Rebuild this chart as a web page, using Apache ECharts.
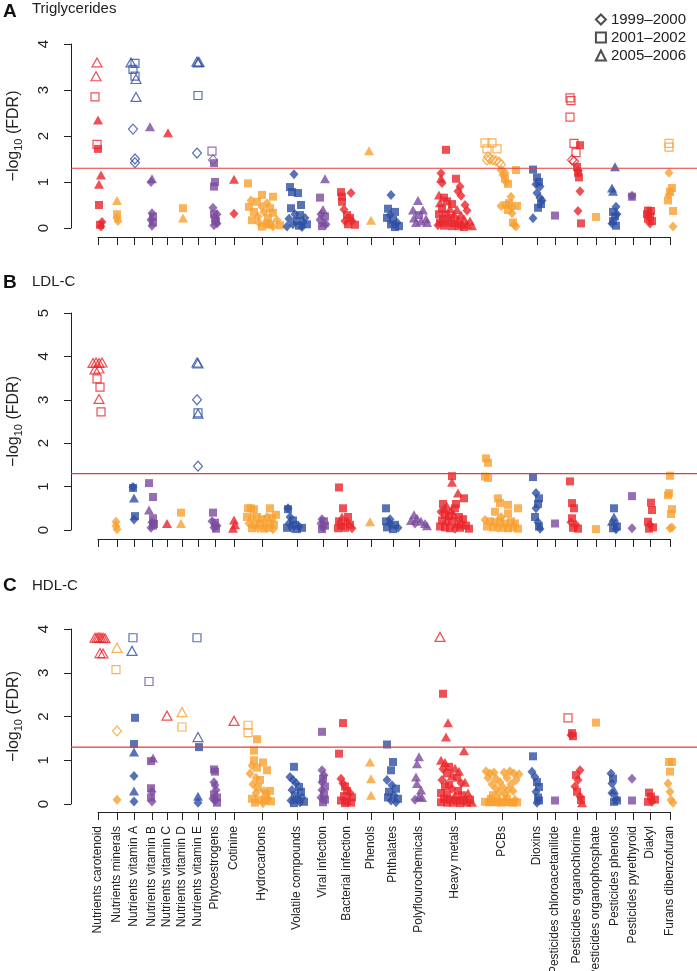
<!DOCTYPE html>
<html>
<head>
<meta charset="utf-8">
<script src="https://cdn.jsdelivr.net/npm/echarts@6/dist/echarts.min.js"></script>
<style>html,body{margin:0;padding:0;background:#fff}#c{width:697px;height:971px}</style>
</head>
<body>
<div id="c"></div>
<script>
const catNames = ['Nutrients carotenoid','Nutrients minerals','Nutrients vitamin A','Nutrients vitamin B','Nutrients vitamin C','Nutrients vitamin D','Nutrients vitamin E','Phytoestrogens','Cotinine','Hydrocarbons','Volatile compounds','Viral infection','Bacterial infection','Phenols','Phthalates','Polyflourochemicals','Heavy metals','PCBs','Dioxins','Pesticides chloroacetanilide','Pesticides organochlorine','Pesticides organophosphate','Pesticides phenols','Pesticides pyrethyroid','Diakyl','Furans dibenzofuran'];
const catPos = [0,19,36,54,69,84,100,117,136,164,199,225,249,273,295,321,357,404,439,457,479,498,517,535,552,572];
const groupColors = ['#E8262B','#F8A030','#2D4FA3','#7B4B9E'];
const surveyNames = ['1999\u20132000','2001\u20132002','2005\u20132006'];
const thresholdFDR = 1.3;
const yTicksA = [0,1,2,3,4], yTicksB = [0,1,2,3,4,5], yTicksC = [0,1,2,3,4];
// points: [category index, jitter offset, -log10(FDR), shape]  d=1999-2000 s=2001-2002 t=2005-2006 ; uppercase = open symbol
const triglycerides = [
[0,-1,3.6,'T'],[0,-2,3.3,'T'],[0,-3,2.85,'S'],[0,0,2.35,'t'],[0,-1,1.82,'S'],[0,0,1.72,'s'],[0,3,1.15,'t'],[0,1,0.95,'t'],[0,1,0.5,'s'],[0,4,0.13,'d'],[0,2,0.07,'s'],[0,3,0.03,'d'],
[1,0,0.6,'t'],[1,0,0.3,'s'],[1,0,0.22,'d'],[1,1,0.15,'d'],
[2,-3,3.6,'T'],[2,1,3.58,'S'],[2,-1,3.45,'S'],[2,1,3.3,'S'],[2,2,3.24,'T'],[2,2,2.85,'T'],[2,-1,2.15,'D'],[2,1,1.5,'D'],[2,1,1.42,'D'],
[3,-2,2.2,'t'],[3,0,1.07,'t'],[3,-1,1.0,'d'],[3,0,0.32,'d'],[3,1,0.25,'s'],[3,-1,0.18,'d'],[3,1,0.12,'s'],[3,0,0.05,'d'],
[4,1,2.07,'t'],
[5,1,0.43,'s'],[5,1,0.22,'t'],
[6,-1,3.62,'T'],[6,0,3.6,'T'],[6,1,3.61,'T'],[6,0,2.88,'S'],[6,-1,1.63,'D'],
[7,-3,1.67,'S'],[7,-2,1.48,'D'],[7,-1,1.41,'s'],[7,0,1.0,'s'],[7,-1,0.9,'s'],[7,-2,0.44,'d'],[7,2,0.3,'d'],[7,0,0.2,'s'],[7,2,0.1,'d'],[7,-1,0.06,'d'],[7,1,0.15,'s'],[7,-1,0.3,'s'],
[8,0,1.06,'t'],[8,0,0.31,'d'],
[9,-14,0.97,'s'],[9,0,0.72,'s'],[9,11,0.68,'s'],[9,-11,0.6,'d'],[9,-5,0.57,'s'],[9,5,0.54,'d'],[9,-13,0.46,'s'],[9,0,0.46,'d'],[9,8,0.43,'s'],[9,-8,0.35,'s'],[9,2,0.35,'d'],[9,11,0.33,'s'],[9,-4,0.25,'d'],[9,6,0.22,'s'],[9,-10,0.17,'s'],[9,15,0.17,'d'],[9,8,0.07,'s'],[9,0,0.03,'s'],[9,11,0.03,'d'],[9,5,0.1,'s'],[9,18,0.06,'s'],[9,-3,0.12,'d'],
[10,-3,1.17,'d'],[10,-7,0.89,'s'],[10,-5,0.78,'s'],[10,1,0.76,'s'],[10,-6,0.43,'s'],[10,4,0.5,'s'],[10,-2,0.3,'d'],[10,3,0.28,'s'],[10,8,0.22,'d'],[10,-8,0.2,'d'],[10,0,0.15,'s'],[10,6,0.12,'d'],[10,-4,0.08,'d'],[10,2,0.05,'s'],[10,10,0.08,'s'],[10,-10,0.03,'d'],[10,5,0.02,'d'],
[11,2,1.07,'t'],[11,-3,0.66,'s'],[11,0,0.4,'t'],[11,-2,0.3,'d'],[11,2,0.25,'s'],[11,-3,0.18,'d'],[11,1,0.12,'t'],[11,3,0.08,'d'],[11,-1,0.04,'s'],
[12,-6,0.78,'s'],[12,4,0.76,'d'],[12,-5,0.68,'s'],[12,-5,0.57,'s'],[12,-3,0.4,'d'],[12,0,0.28,'s'],[12,3,0.22,'s'],[12,5,0.15,'d'],[12,8,0.07,'s'],[12,1,0.08,'s'],[12,-2,0.15,'d'],
[13,-2,1.68,'t'],[13,0,0.17,'t'],
[14,-2,0.72,'d'],[14,-5,0.42,'s'],[14,2,0.35,'s'],[14,-3,0.28,'d'],[14,-6,0.22,'s'],[14,0,0.18,'s'],[14,4,0.12,'d'],[14,-2,0.08,'s'],[14,6,0.04,'s'],[14,2,0.02,'s'],
[15,-1,0.6,'t'],[15,-6,0.39,'t'],[15,4,0.39,'t'],[15,0,0.28,'s'],[15,-5,0.22,'t'],[15,7,0.2,'t'],[15,2,0.15,'t'],[15,-3,0.12,'t'],[15,8,0.12,'t'],
[16,-9,1.7,'s'],[16,-14,1.19,'d'],[16,-14,1.08,'t'],[16,-13,0.98,'d'],[16,1,1.07,'s'],[16,5,0.9,'d'],[16,3,0.8,'d'],[16,6,0.7,'d'],[16,-16,0.72,'t'],[16,-11,0.66,'s'],[16,-15,0.55,'t'],[16,-8,0.58,'s'],[16,-3,0.52,'s'],[16,10,0.5,'d'],[16,-13,0.42,'s'],[16,-5,0.42,'t'],[16,2,0.4,'t'],[16,12,0.38,'d'],[16,-16,0.3,'s'],[16,-9,0.3,'s'],[16,-1,0.3,'t'],[16,6,0.28,'t'],[16,-12,0.2,'s'],[16,-4,0.22,'s'],[16,3,0.2,'t'],[16,9,0.2,'t'],[16,15,0.15,'t'],[16,-15,0.12,'s'],[16,-7,0.12,'s'],[16,0,0.1,'s'],[16,7,0.1,'t'],[16,12,0.08,'t'],[16,-11,0.05,'s'],[16,-3,0.04,'s'],[16,4,0.04,'s'],[16,17,0.05,'t'],[16,-17,0.06,'d'],[16,9,0.02,'s'],
[17,-17,1.85,'S'],[17,-10,1.85,'S'],[17,-15,1.72,'S'],[17,-5,1.72,'S'],[17,-14,1.55,'D'],[17,-12,1.5,'D'],[17,-9,1.48,'D'],[17,-6,1.46,'D'],[17,-3,1.43,'D'],[17,-1,1.38,'D'],[17,-15,1.48,'D'],
[17,-1,1.26,'d'],[17,1,1.15,'d'],[17,3,1.08,'s'],[17,4,1.0,'d'],[17,6,0.96,'s'],[17,14,1.26,'s'],[17,3,1.2,'d'],
[17,9,0.68,'d'],[17,-1,0.48,'d'],[17,4,0.5,'s'],[17,7,0.54,'s'],[17,10,0.45,'d'],[17,15,0.48,'s'],[17,6,0.39,'s'],[17,10,0.32,'d'],[17,12,0.07,'d'],[17,14,0.03,'d'],[17,11,0.12,'s'],
[18,-4,1.27,'s'],[18,0,1.1,'s'],[18,2,1.0,'s'],[18,3,0.9,'d'],[18,0,0.76,'d'],[18,3,0.65,'d'],[18,4,0.52,'s'],[18,1,0.44,'s'],[18,-4,0.21,'d'],[18,5,0.6,'d'],[18,-1,0.95,'d'],
[19,0,0.27,'s'],
[20,-7,2.83,'S'],[20,-6,2.77,'S'],[20,-7,2.41,'S'],[20,-3,1.84,'S'],[20,3,1.8,'s'],[20,-1,1.64,'S'],[20,-5,1.48,'D'],[20,-3,1.45,'D'],[20,0,1.33,'s'],[20,1,1.2,'s'],[20,2,1.1,'s'],[20,3,0.8,'d'],[20,1,0.37,'d'],[20,4,0.1,'s'],[20,1,1.25,'d'],
[21,0,0.24,'s'],
[22,0,1.33,'t'],[22,-3,0.87,'t'],[22,-2,0.8,'t'],[22,1,0.46,'d'],[22,-2,0.35,'s'],[22,0,0.25,'s'],[22,-2,0.15,'s'],[22,-3,0.1,'d'],[22,2,0.3,'d'],[22,1,0.05,'s'],
[23,-1,0.7,'d'],[23,-1,0.68,'s'],
[24,-2,0.38,'s'],[24,1,0.37,'s'],[24,-3,0.3,'s'],[24,0,0.25,'s'],[24,2,0.15,'s'],[24,0,0.1,'d'],[24,-2,0.2,'s'],
[25,-1,1.84,'S'],[25,-1,1.76,'S'],[25,-1,1.2,'d'],[25,2,0.87,'s'],[25,0,0.79,'s'],[25,-1,0.72,'d'],[25,-2,0.6,'s'],[25,3,0.37,'s'],[25,3,0.03,'d']
];
const ldlC = [
[0,-5,3.85,'T'],[0,-2,3.86,'T'],[0,1,3.85,'T'],[0,4,3.86,'T'],[0,-3,3.7,'T'],[0,1,3.72,'T'],[0,-1,3.48,'S'],[0,2,3.29,'S'],[0,1,3.02,'T'],[0,3,2.72,'S'],
[1,-1,0.19,'d'],[1,-1,0.09,'d'],[1,0,0.02,'d'],
[2,-1,0.99,'d'],[2,-1,0.97,'s'],[2,0,0.74,'t'],[2,1,0.32,'s'],[2,0,0.24,'d'],
[3,-3,1.08,'s'],[3,1,0.76,'s'],[3,-3,0.46,'t'],[3,1,0.27,'s'],[3,0,0.18,'d'],[3,1,0.1,'s'],[3,-1,0.05,'d'],[3,2,0.14,'s'],
[4,0,0.15,'t'],
[5,-1,0.4,'s'],[5,-1,0.15,'t'],
[6,-1,3.86,'T'],[6,0,3.84,'T'],[6,-1,3.0,'D'],[6,0,2.7,'S'],[6,0,2.68,'T'],[6,0,1.47,'D'],
[7,-2,0.4,'s'],[7,-3,0.2,'d'],[7,0,0.17,'s'],[7,2,0.1,'d'],[7,-1,0.06,'d'],[7,1,0.03,'s'],
[8,0,0.23,'t'],[8,1,0.12,'t'],[8,-1,0.04,'t'],
[9,-14,0.5,'s'],[9,-11,0.5,'s'],[9,-8,0.48,'s'],[9,8,0.5,'s'],[9,-15,0.3,'s'],[9,-10,0.28,'d'],[9,-5,0.3,'s'],[9,0,0.25,'s'],[9,5,0.3,'d'],[9,10,0.28,'s'],[9,-13,0.15,'d'],[9,-7,0.12,'s'],[9,-2,0.15,'s'],[9,3,0.1,'d'],[9,8,0.15,'s'],[9,12,0.12,'s'],[9,-10,0.04,'s'],[9,-4,0.04,'d'],[9,2,0.03,'s'],[9,7,0.05,'s'],[9,11,0.02,'d'],[9,14,0.35,'s'],
[10,-9,0.5,'d'],[10,-9,0.48,'s'],[10,-7,0.3,'d'],[10,-4,0.22,'s'],[10,-8,0.15,'d'],[10,-2,0.12,'s'],[10,2,0.08,'d'],[10,5,0.05,'s'],[10,-5,0.04,'d'],[10,0,0.02,'s'],[10,-10,0.05,'s'],
[11,-1,0.25,'d'],[11,1,0.2,'s'],[11,-2,0.15,'d'],[11,2,0.1,'s'],[11,0,0.06,'d'],[11,-1,0.02,'s'],
[12,-8,0.98,'s'],[12,-4,0.5,'s'],[12,-5,0.3,'t'],[12,-8,0.2,'s'],[12,0,0.22,'t'],[12,-6,0.1,'s'],[12,3,0.12,'s'],[12,-2,0.05,'s'],[12,5,0.04,'d'],[12,-9,0.04,'s'],[12,1,0.3,'s'],
[13,-1,0.19,'t'],
[14,-7,0.5,'s'],[14,-7,0.2,'s'],[14,-3,0.15,'d'],[14,2,0.12,'s'],[14,-6,0.06,'s'],[14,5,0.05,'d'],[14,0,0.02,'s'],[14,-3,0.25,'d'],
[15,-5,0.35,'t'],[15,-2,0.27,'t'],[15,-8,0.22,'t'],[15,2,0.2,'t'],[15,6,0.15,'t'],[15,-4,0.15,'d'],[15,8,0.1,'t'],
[16,-3,1.24,'s'],[16,-3,1.1,'t'],[16,3,0.85,'t'],[16,9,0.73,'s'],[16,-12,0.6,'s'],[16,-8,0.55,'t'],[16,-4,0.45,'t'],[16,0,0.5,'s'],[16,-14,0.42,'d'],[16,-10,0.35,'s'],[16,-6,0.32,'s'],[16,-1,0.35,'t'],[16,4,0.3,'s'],[16,8,0.25,'s'],[16,-13,0.22,'s'],[16,-8,0.18,'d'],[16,-3,0.2,'s'],[16,2,0.15,'t'],[16,6,0.12,'s'],[16,11,0.1,'s'],[16,-15,0.08,'s'],[16,-10,0.06,'s'],[16,-5,0.04,'s'],[16,0,0.03,'d'],[16,5,0.05,'s'],[16,14,0.03,'s'],[16,-11,0.5,'t'],[16,1,0.6,'s'],
[17,-16,1.65,'s'],[17,-14,1.55,'s'],[17,-17,1.23,'s'],[17,-14,1.2,'s'],[17,-4,0.73,'s'],[17,-2,0.62,'s'],[17,6,0.58,'s'],[17,16,0.5,'s'],[17,6,0.38,'s'],[17,-7,0.42,'s'],[17,-17,0.23,'d'],[17,-12,0.2,'s'],[17,-7,0.18,'s'],[17,-2,0.2,'s'],[17,3,0.15,'s'],[17,9,0.2,'s'],[17,13,0.15,'s'],[17,-15,0.08,'s'],[17,-9,0.06,'s'],[17,-4,0.05,'d'],[17,1,0.05,'s'],[17,6,0.04,'s'],[17,11,0.06,'s'],[17,16,0.03,'s'],[17,-1,0.3,'d'],
[18,-4,1.22,'s'],[18,-1,0.85,'d'],[18,2,0.73,'s'],[18,-1,0.5,'d'],[18,-2,0.3,'s'],[18,1,0.18,'d'],[18,2,0.08,'s'],[18,3,0.03,'d'],[18,1,0.6,'s'],
[19,0,0.15,'s'],
[20,-7,1.12,'s'],[20,-5,0.62,'s'],[20,-3,0.5,'s'],[20,-5,0.27,'s'],[20,-1,0.12,'d'],[20,-4,0.05,'s'],[20,1,0.03,'s'],[20,-6,0.18,'d'],
[21,0,0.02,'s'],
[22,-1,0.5,'s'],[22,-1,0.3,'t'],[22,-3,0.2,'t'],[22,0,0.15,'d'],[22,2,0.08,'s'],[22,-2,0.04,'s'],[22,1,0.02,'d'],
[23,-1,0.78,'s'],[23,-1,0.04,'d'],
[24,1,0.63,'s'],[24,2,0.46,'s'],[24,-2,0.19,'s'],[24,0,0.12,'d'],[24,3,0.06,'s'],[24,-1,0.03,'s'],
[25,0,1.25,'s'],[25,-1,0.85,'s'],[25,-2,0.8,'s'],[25,2,0.48,'s'],[25,1,0.37,'s'],[25,0,0.04,'d'],[25,2,0.06,'d']
];
const hdlC = [
[0,-3,3.8,'T'],[0,-1,3.8,'T'],[0,1,3.81,'T'],[0,3,3.8,'T'],[0,5,3.8,'T'],[0,7,3.79,'T'],[0,2,3.45,'T'],[0,5,3.44,'T'],
[1,0,3.57,'T'],[1,-1,3.07,'S'],[1,0,1.67,'D'],[1,0,0.1,'d'],
[2,-1,3.8,'S'],[2,-2,3.5,'T'],[2,1,1.97,'s'],[2,0,1.37,'s'],[2,0,1.19,'t'],[2,0,0.64,'d'],[2,0,0.3,'t'],[2,0,0.06,'d'],
[3,-3,2.8,'S'],[3,1,1.05,'t'],[3,-1,0.98,'s'],[3,-1,0.36,'s'],[3,0,0.28,'d'],[3,-1,0.15,'s'],[3,0,0.06,'d'],
[4,0,2.02,'T'],
[5,0,2.1,'T'],[5,0,1.76,'S'],
[6,-1,3.8,'S'],[6,0,1.53,'T'],[6,1,1.3,'s'],[6,0,0.18,'t'],[6,0,0.03,'d'],
[7,-1,0.79,'s'],[7,0,0.74,'s'],[7,-1,0.5,'d'],[7,0,0.43,'d'],[7,1,0.32,'d'],[7,-1,0.22,'s'],[7,2,0.15,'s'],[7,0,0.08,'d'],[7,2,0.03,'s'],[7,-2,0.12,'d'],
[8,0,1.9,'T'],
[9,-14,1.8,'S'],[9,-14,1.63,'S'],[9,-5,1.48,'s'],[9,-8,1.22,'s'],[9,-8,1.0,'s'],[9,1,0.95,'s'],[9,-10,0.88,'d'],[9,-5,0.83,'s'],[9,5,0.77,'s'],[9,-12,0.7,'d'],[9,-6,0.6,'d'],[9,-2,0.55,'s'],[9,-9,0.45,'d'],[9,-4,0.38,'s'],[9,2,0.3,'d'],[9,-6,0.25,'d'],[9,4,0.22,'s'],[9,8,0.3,'s'],[9,-10,0.12,'s'],[9,-3,0.1,'s'],[9,3,0.08,'s'],[9,9,0.06,'s'],[9,-7,0.03,'s'],[9,1,0.02,'d'],[9,6,0.12,'d'],
[10,-3,0.85,'s'],[10,-7,0.62,'d'],[10,-4,0.55,'d'],[10,-1,0.48,'d'],[10,2,0.39,'s'],[10,-5,0.32,'d'],[10,4,0.28,'s'],[10,-2,0.2,'s'],[10,5,0.15,'d'],[10,0,0.1,'s'],[10,-6,0.08,'d'],[10,3,0.04,'d'],[10,7,0.05,'s'],[10,-3,0.02,'s'],
[11,-1,1.65,'s'],[11,-1,0.77,'d'],[11,1,0.66,'d'],[11,0,0.58,'s'],[11,-1,0.5,'d'],[11,2,0.4,'s'],[11,-1,0.32,'d'],[11,1,0.22,'s'],[11,-2,0.15,'d'],[11,2,0.1,'s'],[11,0,0.04,'s'],
[12,-4,1.85,'s'],[12,-8,1.15,'s'],[12,-6,0.58,'d'],[12,-4,0.47,'d'],[12,-2,0.4,'s'],[12,0,0.3,'s'],[12,3,0.25,'d'],[12,-3,0.18,'s'],[12,5,0.15,'s'],[12,-6,0.08,'s'],[12,0,0.06,'s'],[12,4,0.03,'s'],[12,-2,0.02,'s'],
[13,-1,0.96,'t'],[13,0,0.58,'t'],[13,0,0.2,'t'],
[14,-6,1.36,'s'],[14,0,0.96,'s'],[14,-2,0.77,'s'],[14,-6,0.55,'d'],[14,-1,0.43,'d'],[14,3,0.35,'s'],[14,-4,0.28,'s'],[14,1,0.2,'d'],[14,5,0.12,'s'],[14,-2,0.08,'d'],[14,3,0.04,'d'],[14,-5,0.15,'s'],
[15,0,1.08,'t'],[15,-2,0.92,'t'],[15,-3,0.62,'t'],[15,-2,0.47,'t'],[15,2,0.32,'t'],[15,0,0.17,'t'],[15,3,0.15,'t'],[15,-4,0.1,'d'],
[16,-15,3.82,'T'],[16,-12,2.52,'s'],[16,-7,1.86,'t'],[16,-9,1.53,'t'],[16,9,1.22,'t'],[16,-14,1.0,'t'],[16,-10,0.95,'t'],[16,-6,0.85,'s'],[16,-12,0.8,'d'],[16,0,0.82,'t'],[16,4,0.75,'t'],[16,-8,0.7,'s'],[16,-3,0.65,'t'],[16,2,0.6,'s'],[16,-13,0.55,'d'],[16,-6,0.45,'s'],[16,6,0.48,'d'],[16,-10,0.4,'s'],[16,10,0.5,'t'],[16,-3,0.35,'d'],[16,3,0.3,'s'],[16,-14,0.25,'s'],[16,-8,0.22,'s'],[16,0,0.2,'t'],[16,7,0.2,'s'],[16,13,0.25,'t'],[16,-11,0.12,'s'],[16,-5,0.1,'s'],[16,2,0.08,'s'],[16,9,0.08,'s'],[16,15,0.1,'s'],[16,-14,0.04,'s'],[16,-8,0.03,'s'],[16,-2,0.03,'s'],[16,5,0.02,'s'],[16,12,0.03,'s'],[16,17,0.04,'t'],
[17,-16,0.75,'d'],[17,-12,0.7,'d'],[17,-8,0.72,'d'],[17,2,0.72,'d'],[17,8,0.75,'d'],[17,12,0.7,'d'],[17,17,0.68,'d'],[17,-14,0.6,'d'],[17,-6,0.58,'d'],[17,5,0.6,'d'],[17,14,0.55,'d'],[17,-10,0.45,'d'],[17,-2,0.5,'d'],[17,9,0.45,'d'],[17,-6,0.35,'d'],[17,1,0.38,'d'],[17,6,0.32,'d'],[17,-3,0.25,'d'],[17,3,0.22,'d'],[17,-9,0.2,'s'],[17,11,0.3,'d'],[17,-17,0.05,'s'],[17,-13,0.04,'s'],[17,-9,0.05,'s'],[17,-5,0.04,'s'],[17,-1,0.03,'s'],[17,3,0.05,'s'],[17,7,0.04,'s'],[17,11,0.03,'s'],[17,15,0.04,'s'],[17,-11,0.12,'s'],[17,-3,0.1,'d'],[17,5,0.12,'s'],[17,13,0.1,'d'],
[18,-4,1.09,'s'],[18,-5,0.74,'d'],[18,-2,0.62,'d'],[18,0,0.5,'s'],[18,2,0.39,'s'],[18,-1,0.28,'d'],[18,1,0.15,'s'],[18,2,0.08,'s'],[18,0,0.03,'d'],
[19,0,0.08,'s'],
[20,-9,1.97,'S'],[20,-5,1.62,'s'],[20,-4,1.55,'s'],[20,-6,1.58,'d'],[20,3,0.77,'d'],[20,-1,0.66,'s'],[20,1,0.55,'d'],[20,-2,0.4,'d'],[20,0,0.28,'s'],[20,4,0.09,'s'],[20,5,0.03,'t'],[20,3,0.17,'d'],
[21,0,1.86,'s'],
[22,-4,0.7,'d'],[22,-2,0.58,'s'],[22,-3,0.47,'d'],[22,-1,0.32,'t'],[22,1,0.17,'t'],[22,-1,0.05,'s'],[22,2,0.08,'s'],[22,-3,0.25,'d'],
[23,-1,0.58,'d'],[23,-1,0.08,'s'],
[24,-1,0.26,'s'],[24,1,0.17,'s'],[24,2,0.05,'d'],[24,5,0.1,'s'],[24,-2,0.05,'s'],
[25,-1,0.96,'s'],[25,2,0.96,'s'],[25,0,0.74,'s'],[25,-2,0.47,'d'],[25,0,0.28,'d'],[25,1,0.09,'d'],[25,3,0.03,'d']
];

const FONT = "'Liberation Sans', Arial, Helvetica, sans-serif";
const TXT = '#222';
const RED_LINE = '#E63A3C';
const symbolOf = {d:'diamond', s:'rect', t:'triangle'};
const sizeOf = {d:[9,10], s:[8,8], t:[10,9]};
function toItems(points){
  return points.map(function(p){
    const code = p[3], k = code.toLowerCase(), hollow = code !== k;
    const col = groupColors[p[0] % 4];
    return {
      value:[catPos[p[0]] + p[1], p[2]],
      symbol: symbolOf[k], symbolSize: sizeOf[k],
      itemStyle: hollow ? {color:'rgba(255,255,255,0)', borderColor: col, borderWidth: 1.2}
                        : {color: col, borderWidth: 0}
    };
  });
}
const panels = [
  {data: triglycerides, ticks: yTicksA, top: 44, h: 184, axisGap: 9, letter:'A', title:'Triglycerides', ty: 10, ly: 13},
  {data: ldlC, ticks: yTicksB, top: 313, h: 217, axisGap: 9, letter:'B', title:'LDL-C', ty: 283, ly: 284},
  {data: hdlC, ticks: yTicksC, top: 629, h: 175, axisGap: 8, letter:'C', title:'HDL-C', ty: 587, ly: 587}
];
const grid = [], xAxis = [], yAxis = [], series = [], graphic = [];
panels.forEach(function(p, i){
  const last = i === panels.length - 1;
  grid.push({left:71, width:626, top:p.top, height:p.h, outerBoundsMode:'none'});
  grid.push({left:98, width:572, top:p.top + p.h, height:p.axisGap, outerBoundsMode:'none'});
  xAxis.push({gridIndex:2*i, type:'value', min:-27, max:599, show:false});
  xAxis.push({gridIndex:2*i+1, type:'value', min:0, max:572, position:'bottom',
    axisLine:{show:true, onZero:false, lineStyle:{color:TXT, width:1}},
    axisTick:{show:true, length:8, customValues: catPos, lineStyle:{color:TXT}},
    axisLabel:{show:last, customValues: catPos, rotate:90, margin:14, fontSize:12, color:TXT, fontFamily:FONT,
      formatter:function(v){ return catNames[catPos.indexOf(v)]; }},
    splitLine:{show:false}});
  const maxY = p.ticks[p.ticks.length-1];
  yAxis.push({gridIndex:2*i, type:'value', min:p.ticks[0], max:maxY, interval:1, position:'left',
    axisLine:{show:true, onZero:false, lineStyle:{color:TXT, width:1}},
    axisTick:{show:true, length:7, lineStyle:{color:TXT}},
    axisLabel:{rotate:90, margin:20, fontSize:15, color:TXT, fontFamily:FONT},
    splitLine:{show:false},
    name:'\u2212log{sub|10} (FDR)', nameLocation:'middle', nameGap:47, nameRotate:90,
    nameTextStyle:{fontSize:16, color:TXT, fontFamily:FONT, lineHeight:20,
      rich:{sub:{fontSize:11, lineHeight:11, verticalAlign:'bottom', color:TXT, fontFamily:FONT}}}});
  yAxis.push({gridIndex:2*i+1, type:'value', show:false, min:0, max:1});
  series.push({type:'line', xAxisIndex:2*i, yAxisIndex:2*i, silent:true, symbol:'none', showSymbol:false, z:4,
    color: RED_LINE, itemStyle:{color:RED_LINE}, lineStyle:{color:RED_LINE, width:1.1, opacity:1},
    emphasis:{disabled:true}, data:[[-27, thresholdFDR],[599, thresholdFDR]]});
  series.push({type:'scatter', xAxisIndex:2*i, yAxisIndex:2*i, clip:false, data: toItems(p.data), z:3});
  graphic.push({type:'text', left:3, top:p.ly - 11, style:{text:p.letter, font:'bold 19px ' + FONT, fill:'#111'}});
  graphic.push({type:'text', left:32, top:p.ty - 9, style:{text:p.title, font:'15px ' + FONT, fill:TXT}});
});
const legendSymbols = ['emptyDiamond','emptyRect','emptyTriangle'];
surveyNames.forEach(function(n, k){
  series.push({type:'scatter', name:n, xAxisIndex:0, yAxisIndex:0, data:[], symbol:legendSymbols[k],
    symbolSize:9, itemStyle:{color:TXT, borderColor:TXT, borderWidth:1}});
});
const chart = echarts.init(document.getElementById('c'), null, {renderer:'canvas'});
chart.setOption({
  animation:false,
  backgroundColor:'#fff',
  textStyle:{fontFamily:FONT},
  grid: grid, xAxis: xAxis, yAxis: yAxis, series: series, graphic: graphic,
  legend:{orient:'vertical', right:6, top:7, itemGap:3, itemWidth:10, itemHeight:10, selectedMode:false,
    textStyle:{fontSize:15, color:TXT, fontFamily:FONT, lineHeight:15},
    data: surveyNames.map(function(n,k){ return {name:n, icon: legendSymbols[k]}; })}
});
</script>
</body>
</html>
